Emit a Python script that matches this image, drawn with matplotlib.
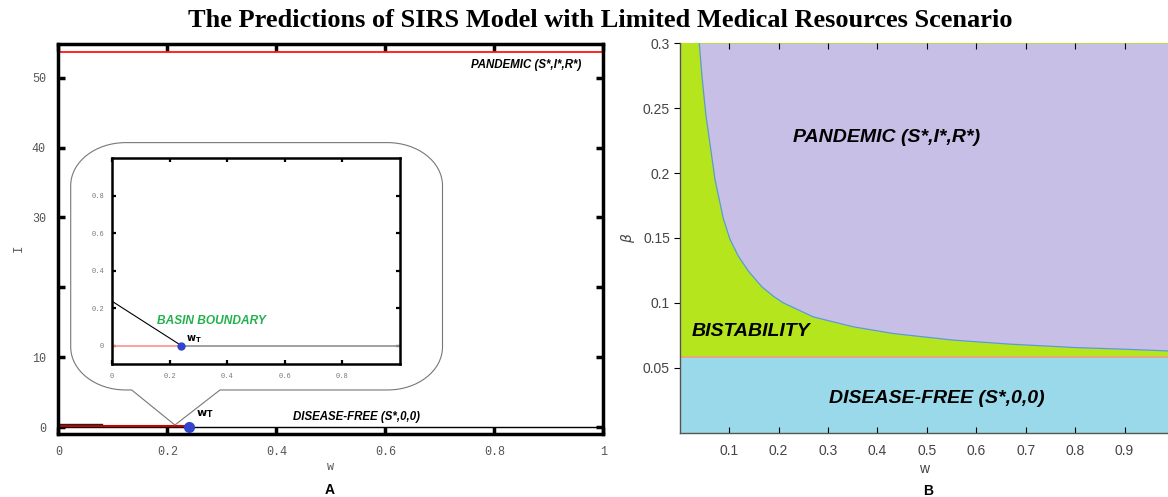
import matplotlib
matplotlib.use("Agg")
import matplotlib.pyplot as plt
from matplotlib.path import Path
from matplotlib.patches import PathPatch

# ---- data, panel A ----
w_ticks_a = [0, 0.2, 0.4, 0.6, 0.8, 1]
w_tick_labels_a = ["0", "0.2", "0.4", "0.6", "0.8", "1"]
I_ticks = [0, 10, 20, 30, 40, 50]
I_tick_labels = ["0", "10", "", "30", "40", "50"]
w_T = 0.24
I_pandemic = 53.7
I_disease_free = 0.0
inset_ticks = [0, 0.2, 0.4, 0.6, 0.8]
inset_tick_labels = ["0", "0.2", "0.4", "0.6", "0.8"]
basin_w = [0.0, 0.24]
basin_I = [0.236, 0.0]

# ---- data, panel B ----
beta_critical = 0.0585
boundary_w = [0.0397, 0.045, 0.053, 0.0715, 0.0883, 0.1018, 0.1187, 0.139, 0.166,
              0.19, 0.2098, 0.2705, 0.351, 0.432, 0.554, 0.669, 0.80, 0.90, 0.988]
boundary_beta = [0.30, 0.275, 0.245, 0.195, 0.165, 0.149, 0.136, 0.1245, 0.1125,
                 0.105, 0.10, 0.0892, 0.0816, 0.0764, 0.0713, 0.0682, 0.0656, 0.0643, 0.063]
w_ticks_b = [0.1, 0.2, 0.3, 0.4, 0.5, 0.6, 0.7, 0.8, 0.9]
beta_ticks = [0.05, 0.1, 0.15, 0.2, 0.25, 0.3]
beta_tick_labels = ["0.05", "0.1", "0.15", "0.2", "0.25", "0.3"]

mono = "Liberation Mono"
sans = "Liberation Sans"

fig = plt.figure(figsize=(11.68, 4.97), dpi=100)

fig.text(0.514, 0.958, "The Predictions of SIRS Model with Limited Medical Resources Scenario",
         ha="center", va="center", fontsize=19, fontweight="bold", family="Liberation Serif")

# ================= panel A =================
ax1 = fig.add_axes([0.0499, 0.1268, 0.4666, 0.7847])
ax1.set_xlim(0, 1)
ax1.set_ylim(-0.95, 54.8)
ax1.set_xticks(w_ticks_a)
ax1.set_xticklabels(w_tick_labels_a)
ax1.set_yticks(I_ticks)
ax1.set_yticklabels(I_tick_labels)
ax1.tick_params(direction="in", length=5, width=2.5, top=True, right=True,
                labelsize=8.5, labelcolor="#555555", pad=9)
for lab in ax1.get_xticklabels() + ax1.get_yticklabels():
    lab.set_family(mono)
for s in ax1.spines.values():
    s.set_linewidth(2.5)
ax1.set_xlabel("w", family=mono, fontsize=8.5, color="#555555", labelpad=2)
ax1.set_ylabel("I", family=mono, fontsize=9, color="#555555")
ax1.yaxis.set_label_coords(-0.062, 0.477)

ax1.plot([0, 1], [I_pandemic, I_pandemic], color="red", lw=1.2)
ax1.plot([0, 1], [I_disease_free, I_disease_free], color="black", lw=1.0)
ax1.plot([0, w_T], [0.25, 0.25], color="#cc0000", lw=1.5)
ax1.plot([0, 0.08], [0.45, 0.45], color="#222222", lw=1.0)
ax1.plot([w_T], [0], "o", color="#3344cc", ms=7, zorder=5, clip_on=False)
ax1.text(w_T + 0.012, 1.1, r"$\mathbf{w_T}$", fontsize=8, va="bottom")
ax1.text(0.858, 51.8, "PANDEMIC (S*,I*,R*)", ha="center", va="center",
         fontsize=8.3, fontweight="bold", fontstyle="italic", family=sans)
ax1.text(0.548, 1.5, "DISEASE-FREE (S*,0,0)", ha="center", va="center",
         fontsize=8.3, fontweight="bold", fontstyle="italic", family=sans)

# callout balloon around the zoomed inset
x0, x1, y0, y1 = 0.0228, 0.705, 5.34, 40.7
rx, ry = 0.101, 6.15
bx0, bx1, tx, ty = 0.1347, 0.2967, 0.214, 0.33
k = 0.5523
verts = [
    (x0 + rx, y1), (x1 - rx, y1),
    (x1 - rx + k * rx, y1), (x1, y1 - ry + k * ry), (x1, y1 - ry),
    (x1, y0 + ry),
    (x1, y0 + ry - k * ry), (x1 - rx + k * rx, y0), (x1 - rx, y0),
    (bx1, y0), (tx, ty), (bx0, y0), (x0 + rx, y0),
    (x0 + rx - k * rx, y0), (x0, y0 + ry - k * ry), (x0, y0 + ry),
    (x0, y1 - ry),
    (x0, y1 - ry + k * ry), (x0 + rx - k * rx, y1), (x0 + rx, y1),
]
codes = [Path.MOVETO, Path.LINETO,
         Path.CURVE4, Path.CURVE4, Path.CURVE4,
         Path.LINETO,
         Path.CURVE4, Path.CURVE4, Path.CURVE4,
         Path.LINETO, Path.LINETO, Path.LINETO, Path.LINETO,
         Path.CURVE4, Path.CURVE4, Path.CURVE4,
         Path.LINETO,
         Path.CURVE4, Path.CURVE4, Path.CURVE4]
ax1.add_patch(PathPatch(Path(verts, codes), facecolor="white", edgecolor="#777777", lw=0.8, zorder=3))

# inset
axi = fig.add_axes([0.0961, 0.267, 0.2463, 0.4145], zorder=4)
axi.set_xlim(0, 1)
axi.set_ylim(-0.1, 1.0)
axi.set_xticks(inset_ticks)
axi.set_xticklabels(inset_tick_labels)
axi.set_yticks(inset_ticks)
axi.set_yticklabels(inset_tick_labels)
axi.tick_params(direction="in", length=3, width=1.6, top=True, right=True,
                labelsize=5, labelcolor="#777777", pad=6)
for lab in axi.get_xticklabels() + axi.get_yticklabels():
    lab.set_family(mono)
for s in axi.spines.values():
    s.set_linewidth(1.8)
axi.plot([0, w_T], [0, 0], color="#ff9999", lw=1.3)
axi.plot([w_T, 1], [0, 0], color="#999999", lw=1.3)
axi.plot(basin_w, basin_I, color="black", lw=0.8)
axi.plot([w_T], [0], "o", color="#3344cc", ms=5, zorder=5)
axi.text(w_T + 0.015, 0.005, r"$\mathbf{w_T}$", fontsize=7, va="bottom")
axi.text(0.346, 0.13, "BASIN BOUNDARY", ha="center", va="center", color="#22b14c",
         fontsize=8.6, fontweight="bold", fontstyle="italic", family=sans)

fig.text(330 / 1168, 1 - 490 / 497, "A", ha="center", va="center",
         fontsize=10, fontweight="bold", family=sans)

# ================= panel B =================
ax2 = fig.add_axes([0.5819, 0.1294, 0.4181, 0.7835])
ax2.set_xlim(0, 0.988)
ax2.set_ylim(0, 0.3)
ax2.fill_between([0, 0.988], 0, beta_critical, color="#99d9ea", lw=0)
ax2.fill_between([0, 0.988], beta_critical, 0.3, color="#b5e61d", lw=0)
ax2.fill_between(boundary_w, boundary_beta, 0.3, color="#c8bfe7", lw=0)
ax2.plot(boundary_w, boundary_beta, color="#5b9bd5", lw=0.9)
ax2.plot([0, 0.988], [beta_critical, beta_critical], color="#f4a07a", lw=1.2)

ax2.set_xticks(w_ticks_b)
ax2.set_xticklabels([f"{v:g}" for v in w_ticks_b])
ax2.set_yticks(beta_ticks)
ax2.set_yticklabels(beta_tick_labels)
ax2.tick_params(axis="x", direction="in", length=4, width=0.8, top=True,
                labelsize=10, labelcolor="#444444", pad=8)
ax2.tick_params(axis="y", direction="out", length=4, width=0.8,
                labelsize=10, labelcolor="#444444", pad=3)
for lab in ax2.get_xticklabels() + ax2.get_yticklabels():
    lab.set_family(sans)
ax2.spines["top"].set_visible(False)
ax2.spines["right"].set_visible(False)
for side in ["left", "bottom"]:
    ax2.spines[side].set_linewidth(1.0)
    ax2.spines[side].set_color("#555555")
ax2.set_xlabel("w", family=sans, fontsize=10, color="#444444", labelpad=3)
ax2.set_ylabel(r"$\beta$", fontsize=10, color="#444444", labelpad=4)

ax2.text(0.4176, 0.2277, "PANDEMIC (S*,I*,R*)", ha="center", va="center",
         fontsize=14, fontweight="bold", fontstyle="italic", family=sans)
ax2.text(0.024, 0.0777, "BISTABILITY", ha="left", va="center",
         fontsize=14, fontweight="bold", fontstyle="italic", family=sans)
ax2.text(0.52, 0.0265, "DISEASE-FREE (S*,0,0)", ha="center", va="center",
         fontsize=14, fontweight="bold", fontstyle="italic", family=sans)

fig.text(928 / 1168, 1 - 491 / 497, "B", ha="center", va="center",
         fontsize=10, fontweight="bold", family=sans)

fig.savefig("out.png", dpi=100)
